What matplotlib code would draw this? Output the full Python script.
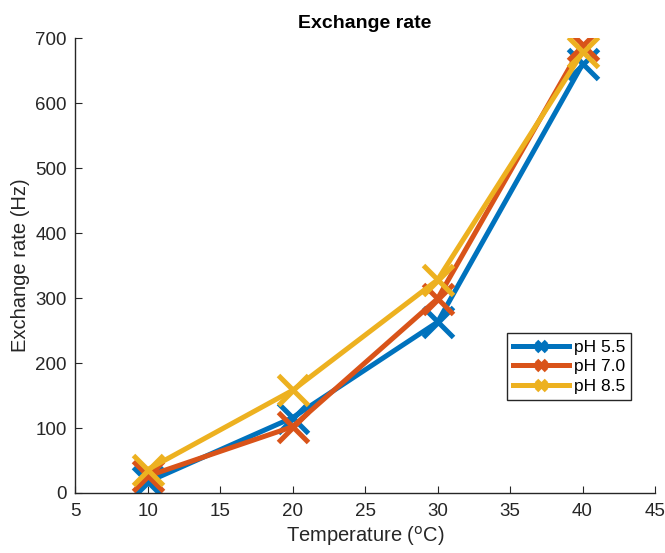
import matplotlib
matplotlib.use("Agg")
import matplotlib.pyplot as plt

plt.rcParams['font.family'] = ['Liberation Sans', 'DejaVu Sans']

# data
temperature = [10, 20, 30, 40]
rate_ph55 = [17, 116, 263, 660]
rate_ph70 = [26, 102, 299, 690]
rate_ph85 = [36, 158, 328, 678]

labels = ["pH 5.5", "pH 7.0", "pH 8.5"]
colors = ["#0072BD", "#D95319", "#EDB120"]

fig = plt.figure(figsize=(6.65, 5.53), dpi=100)
ax = fig.add_axes([0.113, 0.1085, 0.872, 0.8225])

for series, lab, col in zip([rate_ph55, rate_ph70, rate_ph85], labels, colors):
    ax.plot(temperature, series, color=col, linewidth=3.6, marker='x',
            markersize=21, markeredgewidth=3.6, label=lab)

ax.set_xlim(5, 45)
ax.set_ylim(0, 700)
ax.set_xticks(range(5, 46, 5))
ax.set_yticks(range(0, 701, 100))
ax.spines['top'].set_visible(False)
ax.spines['right'].set_visible(False)
for s in ['left', 'bottom']:
    ax.spines[s].set_color('#262626')
    ax.spines[s].set_linewidth(1.0)
ax.tick_params(direction='in', length=5, labelsize=13.5, colors='#262626')
ax.tick_params(axis='x', pad=7)
ax.tick_params(axis='y', pad=6)

ax.set_title("Exchange rate", fontsize=14, fontweight='bold', color='black', pad=7)
ax.set_xlabel("Temperature ($^{\\mathsf{o}}$C)", fontsize=14.5, color='#262626', labelpad=3)
ax.set_ylabel("Exchange rate (Hz)", fontsize=14.5, color='#262626', labelpad=4)

leg = ax.legend(loc='lower left', bbox_to_anchor=(0.745, 0.205), fontsize=12.5,
                fancybox=False, framealpha=1, edgecolor='#262626',
                handlelength=3.2, markerscale=0.35, borderpad=0.35,
                labelspacing=0.25, handletextpad=0.3, borderaxespad=0)
leg.get_frame().set_linewidth(1.0)

fig.savefig("out.png", dpi=100)
